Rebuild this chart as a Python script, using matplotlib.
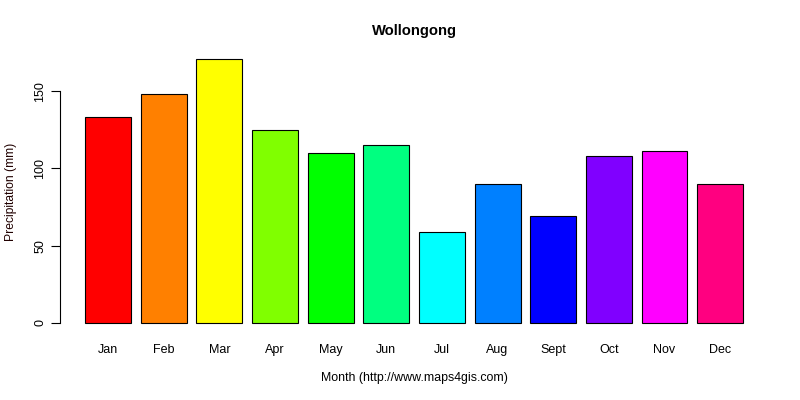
import matplotlib
matplotlib.use("Agg")
import matplotlib.pyplot as plt

months = ["Jan", "Feb", "Mar", "Apr", "May", "Jun", "Jul", "Aug", "Sept", "Oct", "Nov", "Dec"]
precip = [133, 148, 171, 125, 110, 115, 59, 90, 69, 108, 111, 90]
colors = ["#FF0000", "#FF8000", "#FFFF00", "#80FF00", "#00FF00", "#00FF80",
          "#00FFFF", "#0080FF", "#0000FF", "#8000FF", "#FF00FF", "#FF0080"]
yticks = [0, 50, 100, 150]

plt.rcParams["font.family"] = ["Liberation Sans", "DejaVu Sans"]

fig = plt.figure(figsize=(8, 4), dpi=100)
# axes box in figure fractions, from the pixel positions in the reference
ax = fig.add_axes([60 / 800, 1 - 330 / 400, 688 / 800, 280 / 400])

x = [i for i in range(len(months))]
ax.bar(x, precip, width=0.825, color=colors, edgecolor="black", linewidth=0.8)

# 0 at y=323 px, 150 at y=91.2 px, axes run from 330 px up to 50 px
ax.set_ylim(-7 * 150 / 231.8, 273 * 150 / 231.8)
# Jan centred at 108 px, bar pitch 55.64 px
ax.set_xlim(-0.863, 11.5)

for side in ["top", "right", "bottom"]:
    ax.spines[side].set_visible(False)
ax.spines["left"].set_bounds(0, 150)

ax.set_yticks(yticks)
ax.set_yticklabels(yticks, rotation=90, va="center", fontsize=9)
ax.tick_params(axis="y", length=6.2, width=0.8, pad=3.8)
ax.set_xticks(x)
ax.set_xticklabels(months, fontsize=9)
ax.tick_params(axis="x", length=0, pad=10.4)

fig.text(414 / 800, 1 - 31 / 400, "Wollongong", ha="center", va="center", fontsize=10.6, fontweight="bold")
fig.text(414 / 800, 1 - 377.5 / 400, "Month (http://www.maps4gis.com)", ha="center", va="center", fontsize=8.9)
fig.text(11 / 800, 1 - 192 / 400, "Precipitation (mm)", ha="center", va="center", rotation=90, fontsize=8.7, color="#200000")

fig.savefig("out.png", dpi=100)
